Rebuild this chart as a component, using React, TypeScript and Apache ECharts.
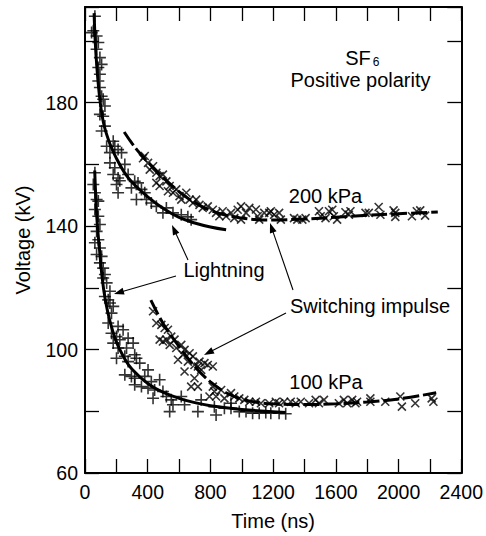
import React, { useEffect, useRef } from "react";
import * as echarts from "echarts";

// ---- Data ----
const xTickLabels = [0, 400, 800, 1200, 1600, 2000, 2400];
const yTickLabels = [60, 100, 140, 180];

// Fitted curves
const lightning200Fit: [number, number][] = [
  [58, 209], [65, 200], [75, 192], [95, 181], [120, 173], [160, 166.5], [200, 162],
  [250, 157.5], [300, 154.2], [400, 149.5], [500, 145.7], [600, 142.8], [700, 141],
  [800, 139.7], [900, 138.8],
];
const switching200Fit: [number, number][] = [
  [250, 170.5], [300, 166.8], [350, 163.6], [400, 160.8], [500, 155.7], [600, 151.2],
  [700, 147.6], [800, 145.1], [900, 143.5], [1000, 142.6], [1100, 142.1], [1200, 142],
  [1400, 142.3], [1600, 142.9], [1800, 143.5], [2000, 144], [2250, 144.6],
];
const lightning100Fit: [number, number][] = [
  [62, 158], [70, 148], [80, 139.5], [95, 131], [110, 123], [130, 116], [160, 109],
  [200, 102.5], [250, 97.3], [300, 93.6], [400, 89], [500, 86.1], [600, 84.2],
  [700, 82.8], [800, 81.8], [1000, 80.6], [1280, 79.6],
];
const switching100Fit: [number, number][] = [
  [420, 116], [500, 108.3], [600, 101], [700, 94.5], [800, 89.5], [900, 86],
  [1000, 83.9], [1100, 82.9], [1200, 82.4], [1400, 82.2], [1600, 82.4], [1800, 83],
  [2000, 84], [2240, 86],
];

// Measured points
const lightning200Pts: [number, number][] = [
  [63, 208], [53, 203.3], [42, 202.7], [74, 201.6], [85, 199.5], [74, 197.3], [95, 194.6],
  [106, 192.4], [85, 191.4], [95, 189.2], [85, 187], [95, 184.9], [106, 182.1], [116, 181.1],
  [127, 178.9], [95, 176.2], [116, 175.6], [127, 172.4], [106, 170.8], [138, 165.9],
  [180, 167.5], [190, 165.9], [159, 163.8], [211, 164.8], [233, 163.8], [159, 160.5],
  [190, 158.9], [180, 156.7], [211, 155.6], [201, 153.5], [222, 154.7], [211, 150.8],
  [254, 160], [275, 156.7], [317, 154.5], [338, 154], [296, 152.4], [360, 151.9],
  [328, 148.6], [381, 150.8], [392, 148.6], [423, 147.5], [455, 146.4], [497, 144.3],
  [519, 145.9], [561, 144.3], [614, 143.7], [656, 143], [677, 142.1],
];
const switching200Pts: [number, number][] = [
  [370, 162], [381, 162.7], [402, 160.5], [434, 159.4], [413, 158.3], [455, 157.3], [476, 156.2],
  [497, 156.7], [455, 154], [519, 154.5], [476, 153], [540, 153], [529, 151.3], [561, 150.8],
  [582, 151.9], [603, 149.7], [614, 148.6], [646, 150.8], [667, 148.6], [688, 147.5],
  [709, 148.6], [730, 146.9], [751, 145.9], [783, 146.4], [815, 145.3], [836, 144.3],
  [857, 143.2], [878, 144.8], [900, 143.2], [931, 144.3], [952, 142.6], [974, 145.3],
  [995, 142.1], [995, 146.4], [1027, 144.3], [1048, 145.9], [1090, 145.4], [1101, 143.2],
  [1111, 142.1], [1143, 144.3], [1175, 144.3], [1185, 144.8], [1206, 143.7], [1238, 144.3],
  [1249, 142.1], [1333, 142.6], [1354, 142.1], [1386, 142.1], [1407, 142.6], [1492, 144.8],
  [1503, 143.2], [1534, 142.6], [1577, 145.3], [1587, 143.2], [1608, 142.1], [1556, 144.8],
  [1661, 144.5], [1683, 143.7], [1693, 144.8], [1789, 144.3], [1810, 144.3], [1873, 146.2],
  [1884, 143.7], [1968, 145.1], [1979, 144.3], [1979, 143], [2085, 143.2], [2116, 144.8],
  [2138, 145.1], [2169, 143.4],
];
const lightning100Pts: [number, number][] = [
  [63, 157.3], [53, 153.5], [63, 150.8], [74, 148.6], [85, 148.1], [63, 145.4], [85, 143.2],
  [95, 140.5], [74, 138.3], [85, 135.6], [63, 134.6], [95, 132.9], [74, 130.8], [106, 130.2],
  [95, 128.1], [116, 126.4], [127, 124.3], [116, 123.2], [138, 121.6], [159, 118.9],
  [148, 116.1], [127, 117.2], [159, 115.1], [180, 114], [169, 111.8], [148, 108.6],
  [211, 107.5], [243, 106.4], [169, 105.3], [201, 104.2], [222, 103.2], [275, 103.7],
  [307, 102.1], [180, 102.1], [211, 100.5], [265, 100.5], [201, 97.2], [254, 97.8],
  [275, 96.1], [317, 98.3], [328, 97.2], [349, 95.6], [254, 91.8], [296, 91.3], [317, 90.7],
  [402, 93.4], [381, 91.3], [423, 89.6], [317, 88.6], [360, 88], [402, 87.5], [476, 90.2],
  [444, 86.9], [497, 86.4], [519, 84.8], [550, 83.7], [434, 84.2], [561, 82.1], [614, 84.8],
  [635, 82.1], [540, 79.9], [720, 79.9], [741, 83.7], [825, 81.5], [836, 78.8], [889, 81],
  [931, 82.6], [931, 81], [984, 79.9], [1027, 79.9], [1069, 79.4], [1111, 79.4],
  [1153, 79.6], [1185, 79.4], [1238, 79.4], [1280, 79.2],
];
const switching100Pts: [number, number][] = [
  [434, 112.4], [455, 108.6], [487, 108], [508, 107], [529, 106.4], [476, 103.2], [497, 102.6],
  [519, 103.2], [550, 104.2], [540, 101.5], [571, 103.2], [582, 100.5], [614, 101.5],
  [635, 99.9], [624, 98.3], [667, 98.8], [688, 97.8], [593, 96.7], [656, 96.1], [698, 95],
  [635, 92.9], [720, 94.5], [730, 96.1], [762, 95.6], [783, 95], [815, 94.5], [741, 93.4],
  [698, 90.7], [677, 88], [720, 88], [815, 88], [825, 86.4], [868, 86.9], [794, 84.8],
  [836, 84.8], [889, 84.2], [931, 85.9], [952, 84.8], [984, 84.2], [1016, 83.7],
  [1048, 83.1], [1090, 83.1], [1122, 82.6], [1175, 82.6], [1217, 83.1], [1238, 82.6],
  [1270, 83.1], [1312, 83.1], [1344, 82.6], [1376, 83.1], [1429, 82.6], [1471, 83.7],
  [1492, 82.6], [1524, 83.7], [1619, 82.6], [1651, 83.7], [1672, 82.6], [1704, 83.7],
  [1725, 82.6], [1735, 83.1], [1820, 84.2], [1820, 83.1], [1915, 83.1], [2011, 84.8],
  [2021, 81.5], [2106, 82.6], [2211, 84.2], [2222, 83.1],
];

const FONT = "'Liberation Sans', Arial, Helvetica, sans-serif";
const PLUS = "path://M0,5L10,5M5,0L5,10";
const CROSS = "path://M0,0L10,10M10,0L0,10";

function arrow(x1: number, y1: number, x2: number, y2: number) {
  const dx = x2 - x1;
  const dy = y2 - y1;
  const len = Math.sqrt(dx * dx + dy * dy);
  const ux = dx / len;
  const uy = dy / len;
  const hl = 10;
  const hw = 3.5;
  const bx = x2 - ux * hl;
  const by = y2 - uy * hl;
  return [
    {
      type: "line",
      shape: { x1, y1, x2: bx + ux * 2, y2: by + uy * 2 },
      style: { stroke: "#000", lineWidth: 1.1 },
      z: 100,
    },
    {
      type: "polygon",
      shape: {
        points: [
          [x2, y2],
          [bx - uy * hw, by + ux * hw],
          [bx + uy * hw, by - ux * hw],
        ],
      },
      style: { fill: "#000" },
      z: 100,
    },
  ];
}

function txt(text: string, x: number, y: number, size = 20, align = "center") {
  return {
    type: "text",
    z: 100,
    style: {
      text,
      x,
      y,
      fill: "#000",
      fontSize: size,
      lineHeight: size,
      fontFamily: FONT,
      align,
      verticalAlign: "middle",
    },
  };
}

export default function App() {
  const ref = useRef<HTMLDivElement>(null);
  useEffect(() => {
    if (!ref.current) return;
    const chart = echarts.init(ref.current, undefined, { renderer: "svg" });

    const axisCommon = {
      type: "value" as const,
      axisLine: { show: true, onZero: false, lineStyle: { color: "#000", width: 2 } },
      axisTick: { show: true, inside: true, length: 14, lineStyle: { color: "#000", width: 1.3 } },
      splitLine: { show: false },
    };
    const labelStyle = { color: "#000", fontSize: 19.5, fontFamily: FONT };

    const scatterStyle = (sym: string, size: number) => ({
      type: "scatter" as const,
      symbol: sym,
      symbolSize: size,
      itemStyle: { color: "transparent", borderColor: "#000", borderWidth: 1.6 },
      z: 2,
    });

    chart.setOption({
      animation: false,
      backgroundColor: "#fff",
      grid: { left: 85, right: 23, top: 7, bottom: 63 },
      xAxis: [
        {
          ...axisCommon,
          position: "bottom",
          min: 0,
          max: 2400,
          interval: 200,
          axisLabel: {
            ...labelStyle,
            margin: 9,
            formatter: (v: number) => (xTickLabels.includes(v) ? String(v) : ""),
          },
          name: "Time (ns)",
          nameLocation: "middle",
          nameGap: 38,
          nameTextStyle: { color: "#000", fontSize: 20, fontFamily: FONT },
        },
        {
          ...axisCommon,
          position: "top",
          min: 0,
          max: 2400,
          interval: 200,
          axisLabel: { show: false },
        },
      ],
      yAxis: [
        {
          ...axisCommon,
          position: "left",
          min: 60,
          max: 211,
          interval: 20,
          axisLabel: {
            ...labelStyle,
            margin: 7,
            formatter: (v: number) => (yTickLabels.includes(v) ? String(v) : ""),
          },
          name: "Voltage (kV)",
          nameLocation: "middle",
          nameGap: 52,
          nameRotate: 90,
          nameTextStyle: { color: "#000", fontSize: 20, fontFamily: FONT },
        },
        {
          ...axisCommon,
          position: "right",
          min: 60,
          max: 211,
          interval: 20,
          axisLabel: { show: false },
        },
      ],
      series: [
        { ...scatterStyle(PLUS, 12), name: "Lightning 200 kPa", data: lightning200Pts },
        { ...scatterStyle(CROSS, 8), name: "Switching 200 kPa", data: switching200Pts },
        { ...scatterStyle(PLUS, 12), name: "Lightning 100 kPa", data: lightning100Pts },
        { ...scatterStyle(CROSS, 8), name: "Switching 100 kPa", data: switching100Pts },
        {
          type: "line",
          name: "Lightning 200 kPa fit",
          data: lightning200Fit,
          smooth: 0.4,
          showSymbol: false,
          lineStyle: { color: "#000", width: 3 },
          z: 5,
        },
        {
          type: "line",
          name: "Switching 200 kPa fit",
          data: switching200Fit,
          smooth: 0.4,
          showSymbol: false,
          lineStyle: { color: "#000", width: 3, type: [16, 4] },
          z: 5,
        },
        {
          type: "line",
          name: "Lightning 100 kPa fit",
          data: lightning100Fit,
          smooth: 0.4,
          showSymbol: false,
          lineStyle: { color: "#000", width: 3 },
          z: 5,
        },
        {
          type: "line",
          name: "Switching 100 kPa fit",
          data: switching100Fit,
          smooth: 0.4,
          showSymbol: false,
          lineStyle: { color: "#000", width: 3, type: [16, 4] },
          z: 5,
        },
      ],
      graphic: [
        txt("SF", 358, 58, 20, "center"),
        txt("6", 376, 62, 12, "center"),
        txt("Positive polarity", 360.5, 80),
        txt("200 kPa", 325.5, 196),
        txt("Lightning", 224, 270),
        txt("Switching impulse", 370, 306),
        txt("100 kPa", 326, 382),
        ...arrow(188, 260, 172, 225),
        ...arrow(176, 276, 114, 294),
        ...arrow(293, 290, 270, 223),
        ...arrow(286, 313, 204, 355),
      ],
    });

    return () => chart.dispose();
  }, []);

  return (
    <div
      ref={ref}
      style={{ position: "fixed", left: 0, top: 0, width: 486, height: 536, background: "#fff" }}
    />
  );
}
